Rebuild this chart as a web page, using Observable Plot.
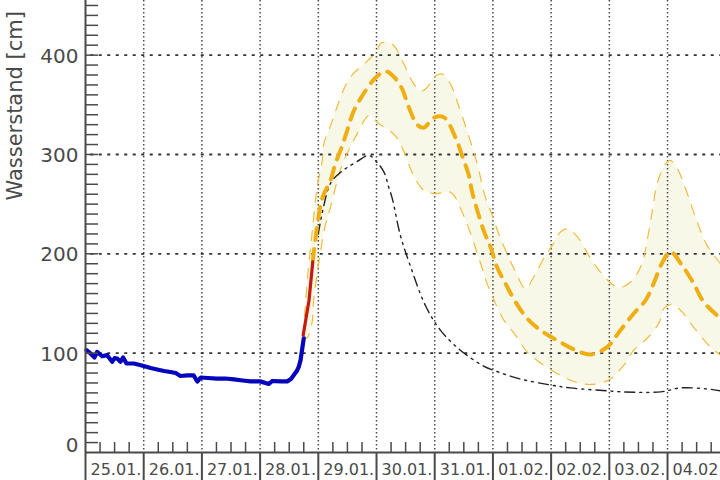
<!DOCTYPE html>
<html><head><meta charset="utf-8">
<style>html,body{margin:0;padding:0;background:#fff}svg{display:block}</style>
<script src="https://cdn.jsdelivr.net/npm/d3@7"></script>
<script src="https://cdn.jsdelivr.net/npm/@observablehq/plot@0.6"></script>
</head><body><div id="c"></div>
<script>
const dayLabels=["25.01.","26.01.","27.01.","28.01.","29.01.","30.01.","31.01.","01.02.","02.02.","03.02.","04.02"];
const dayTicks=[0,1,2,3,4,5,6,7,8,9,10];
const sixHourTicks=[.25,.5,.75,1.25,1.5,1.75,2.25,2.5,2.75,3.25,3.5,3.75,4.25,4.5,4.75,5.25,5.5,5.75,6.25,6.5,6.75,7.25,7.5,7.75,8.25,8.5,8.75,9.25,9.5,9.75,10.25,10.5,10.75];
const yMajor=[100,200,300,400];
const yMinor=[10,20,30,40,50,60,70,80,90,100,110,120,130,140,150,160,170,180,190,200,210,220,230,240,250,260,270,280,290,300,310,320,330,340,350,360,370,380,390,400,410,420,430,440,450];
const measuredDays=[.017,.086,.155,.2,.286,.372,.458,.5,.544,.6,.647,.704,.83,1,1.12,1.23,1.35,1.46,1.55,1.63,1.75,1.86,1.92,1.98,2.1,2.26,2.4,2.55,2.7,2.835,3,3.15,3.21,3.35,3.465,3.53,3.58,3.63,3.665,3.695,3.72,3.75];
const measuredCm=[103,99.7,95.7,101.3,96.9,98,91.3,95,94.6,91.3,95.7,89.6,89.6,87,85,83.6,82,81,80,77,77.6,77.6,71.4,75.5,75,74.3,74.5,73.6,72.5,71.6,71.6,69,72,71.5,71.6,74,78,82,86.3,93,103,115];
const recentDays=[3.74,3.84,3.905];
const recentCm=[118,153,192];
const meanDays=[3.905,4.067,4.21,4.295,4.4,4.496,4.6,4.754,4.98,5.155,5.3,5.44,5.555,5.7,5.81,5.985,6.156,6.357,6.47,6.586,6.644,6.84,6.97,7.07,7.216,7.388,7.59,7.818,8.1,8.42,8.68,8.96,9.19,9.42,9.62,9.76,9.9,10.05,10.25,10.45,10.62,10.91];
const meanCm=[193,255.8,274,291,307,324,342.5,359,377,383.7,378,366,347.5,330,327,337,337.5,317,299,279,262,223.6,205,186.7,170,151.6,134.9,123,113,103,98.7,106,123,140,153,170,190,202,188.4,170,151.6,135];
const upperDays=[3.74,3.81,3.9,3.98,4.067,4.095,4.21,4.32,4.44,4.58,4.84,5.01,5.07,5.27,5.47,5.61,5.76,5.87,6.01,6.13,6.27,6.42,6.61,6.73,6.87,6.99,7.1,7.245,7.39,7.56,7.7,7.87,8.02,8.16,8.29,8.48,8.68,8.9,9.08,9.19,9.39,9.56,9.65,9.74,9.82,9.97,10.05,10.17,10.31,10.51,10.68,10.91];
const upperCm=[118,173,225,267,294,311,329,347.5,366,380,394,404.5,412,411,391,374,363.6,367.6,379,381,371,347.5,314,290.6,257,238.7,220,200,181.7,165,176.7,195,208.5,222,225,215,195,178,168,166,173,190,213.6,243.7,270.5,291,294,285.6,265.5,232,208.5,190];
const lowerDays=[3.74,3.8,3.89,3.92,4,4.12,4.21,4.3,4.4,4.52,4.67,4.87,5.04,5.32,5.5,5.61,5.81,6.01,6.27,6.5,6.79,6.9,7.02,7.19,7.39,7.59,7.82,8.1,8.42,8.68,8.99,9.25,9.42,9.65,9.85,9.94,10.08,10.25,10.45,10.74,10.91];
const lowerCm=[118,115,130,153,188,228.6,247,268,288,304,321,339,331,319,299,282,264,260.5,262,238,190,170,153,133,118,101,90,79.6,71,68.5,73,88,103,115,130,145,149,141.5,126,106,98];
const modelDays=[4,4.07,4.21,4.38,4.5,4.67,4.87,5.01,5.13,5.21,5.27,5.41,5.58,5.84,6.1,6.44,6.84,7,7.47,7.99,8.33,8.99,9.25,9.88,10.22,10.68,10.91];
const modelCm=[220,242,271,282,287,293,299,292,282,267,255.8,218.6,188,148,123,103,87,83,74,68,65,62,61,61,65,64,62];

const pts=(xs,ys)=>xs.map((x,i)=>({x,y:ys[i]}));
const band=[...pts(upperDays,upperCm),...pts(lowerDays,lowerCm).reverse()];
const ink="#4a4a4a";
const chart=Plot.plot({
  width:720,height:480,marginLeft:85,marginRight:0,marginTop:0,marginBottom:28,
  style:{background:"#fff",fontFamily:"'DejaVu Sans',sans-serif",overflow:"hidden"},
  x:{domain:[0,10.91],range:[85,720],axis:null,label:null},
  y:{domain:[0,455],range:[452,0],axis:null,label:null},
  marks:[
    Plot.line(band,{x:"x",y:"y",fill:"#f8f8e8",stroke:"none",curve:"catmull-rom",clip:true}),
    Plot.ruleX(dayTicks.slice(1),{stroke:ink,strokeWidth:1.5,strokeDasharray:"1.5,2.5"}),
    Plot.ruleY(yMajor,{x1:0.09,x2:10.91,stroke:"#333",strokeWidth:1.8,strokeDasharray:"3,5.5"}),
    Plot.line(pts(upperDays,upperCm),{x:"x",y:"y",stroke:"#f0bc3c",strokeWidth:1.2,strokeDasharray:"10,9",curve:"catmull-rom",clip:true}),
    Plot.line(pts(lowerDays,lowerCm),{x:"x",y:"y",stroke:"#f0bc3c",strokeWidth:1.2,strokeDasharray:"10,9",curve:"catmull-rom",clip:true}),
    Plot.line(pts(modelDays,modelCm),{x:"x",y:"y",stroke:"#222",strokeWidth:1.4,strokeDasharray:"10,5,2,5,2,5",curve:"catmull-rom",clip:true}),
    Plot.line(pts(meanDays,meanCm),{x:"x",y:"y",stroke:"#efae14",strokeWidth:4,strokeDasharray:"12,9",curve:"catmull-rom",clip:true}),
    Plot.line(pts(measuredDays,measuredCm),{x:"x",y:"y",stroke:"#0505bd",strokeWidth:4.2,strokeLinejoin:"round"}),
    Plot.line(pts(recentDays,recentCm),{x:"x",y:"y",stroke:"#c41a12",strokeWidth:3.2}),
    Plot.axisY(yMinor,{anchor:"left",tickSize:-13,stroke:ink,strokeWidth:1.5,tickFormat:()=>"",label:null}),
    Plot.axisX(sixHourTicks,{anchor:"bottom",tickSize:-10,stroke:ink,strokeWidth:1.5,tickFormat:()=>"",label:null}),
    Plot.axisX(dayTicks,{anchor:"bottom",tickSize:28,stroke:ink,strokeWidth:2,tickFormat:()=>"",label:null}),
    Plot.ruleX([0],{stroke:ink,strokeWidth:2}),
    Plot.ruleY([0],{stroke:ink,strokeWidth:2}),
    Plot.text(yMajor,{x:0,y:d=>d,text:d=>String(d),textAnchor:"end",dx:-7,dy:1,fontSize:20,fill:ink}),
    Plot.text([0],{x:0,y:d=>d,text:d=>String(d),textAnchor:"end",dx:-7,dy:-7,fontSize:20,fill:ink}),
    Plot.text(dayTicks,{x:d=>d,y:0,text:d=>dayLabels[d],textAnchor:"start",dx:5,dy:17,fontSize:16,fill:ink}),
    Plot.text(["Wasserstand [cm]"],{x:0,y:349,text:d=>d,rotate:-90,dx:-70,fontSize:21,fill:ink})
  ]
});
document.getElementById("c").append(chart);
</script></body></html>
